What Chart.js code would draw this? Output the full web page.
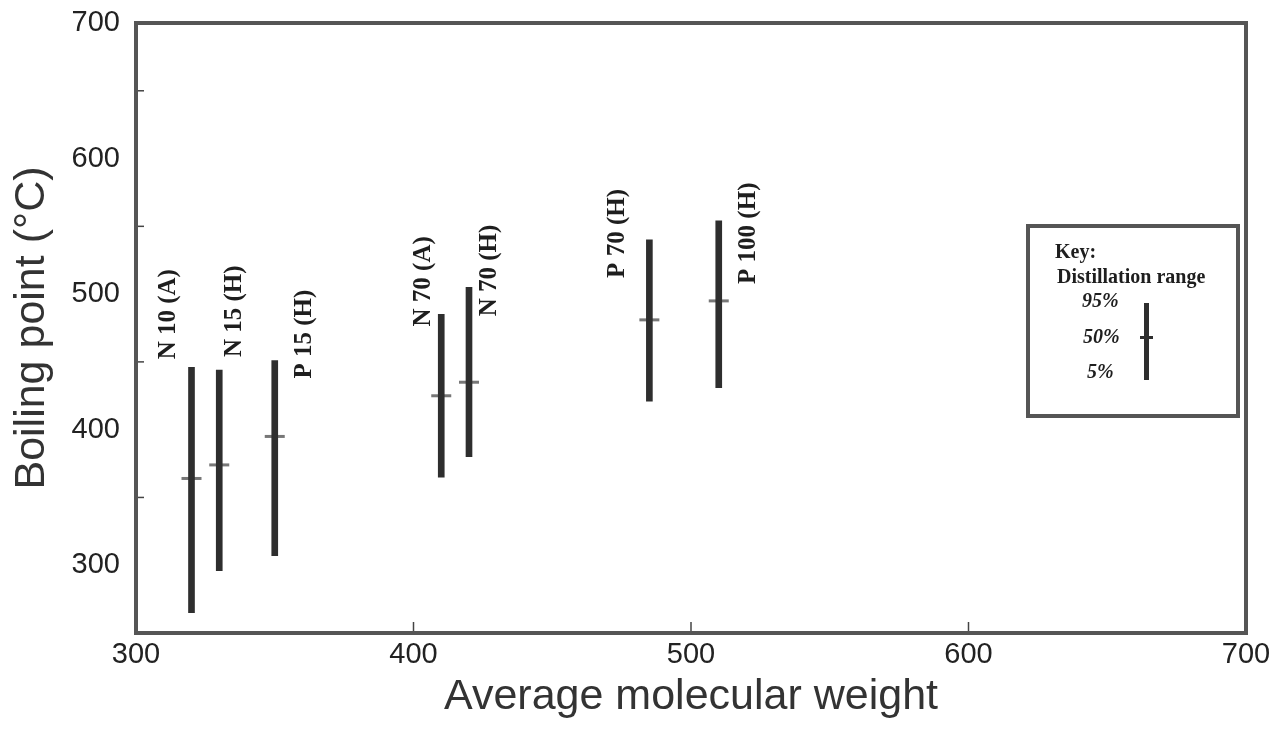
<!DOCTYPE html>
<html>
<head>
<meta charset="utf-8">
<script src="https://cdn.jsdelivr.net/npm/chart.js@4.4.0/dist/chart.umd.min.js"></script>
<style>
  html, body { margin: 0; padding: 0; background: #fff; }
  #wrap { width: 1278px; height: 731px; }
</style>
</head>
<body>
<div id="wrap"><canvas id="chart"></canvas></div>
<script>
// oils: average molecular weight vs boiling range (5% / 50% / 95%)
const oilNames = ['N 10 (A)', 'N 15 (H)', 'P 15 (H)', 'N 70 (A)', 'N 70 (H)', 'P 70 (H)', 'P 100 (H)'];
const molWeight = [320, 330, 350, 410, 420, 485, 510];
const bp5 = [265, 296, 307, 365, 380, 421, 431];
const bp50 = [364, 374, 395, 425, 435, 481, 495];
const bp95 = [446, 444, 451, 485, 505, 540, 554];

const xTickValues = [300, 400, 500, 600, 700];
const yTickValues = [300, 400, 500, 600, 700];
const xMinorTicks = [400, 500, 600];
const yMinorTicks = [350, 450, 550, 650];

// label offsets in pixels from the top of each bar (layout only)
const labelDx = [-23, 15, 30, -18, 21, -32, 30];
const labelDy = [-8, -13, 18, 12, 29, 38, 63];

const inkColor = '#2e2e2e';
const frameColor = '#555';

// frame, inward ticks, rotated labels and the key box
const decorPlugin = {
  id: 'decor',
  afterDatasetsDraw(chart) {
    const ctx = chart.ctx;
    const a = chart.chartArea;
    const xs = chart.scales.x;
    const ys = chart.scales.y;
    ctx.save();

    // rotated oil names
    ctx.fillStyle = '#1e1e1e';
    ctx.font = 'bold 25px "Liberation Serif", serif';
    ctx.textAlign = 'left';
    ctx.textBaseline = 'middle';
    oilNames.forEach(function (name, i) {
      const px = xs.getPixelForValue(molWeight[i]) + labelDx[i];
      const py = ys.getPixelForValue(bp95[i]) + labelDy[i];
      ctx.save();
      ctx.translate(px, py);
      ctx.rotate(-Math.PI / 2);
      ctx.fillText(name, 0, 0);
      ctx.restore();
    });

    // inward tick marks
    ctx.strokeStyle = '#444';
    ctx.lineWidth = 1.5;
    xMinorTicks.forEach(function (v) {
      const px = xs.getPixelForValue(v);
      ctx.beginPath();
      ctx.moveTo(px, a.bottom);
      ctx.lineTo(px, a.bottom - 11);
      ctx.stroke();
    });
    yMinorTicks.forEach(function (v) {
      const py = ys.getPixelForValue(v);
      ctx.beginPath();
      ctx.moveTo(a.left, py);
      ctx.lineTo(a.left + 8, py);
      ctx.stroke();
    });

    // plot frame
    ctx.strokeStyle = frameColor;
    ctx.lineWidth = 4;
    ctx.strokeRect(a.left, a.top, a.right - a.left, a.bottom - a.top);

    // key box
    const kx = 1028, ky = 226, kw = 210, kh = 190;
    ctx.lineWidth = 4;
    ctx.strokeRect(kx, ky, kw, kh);
    ctx.fillStyle = '#1e1e1e';
    ctx.textAlign = 'left';
    ctx.font = 'bold 20px "Liberation Serif", serif';
    ctx.fillText('Key:', kx + 27, ky + 27);
    ctx.fillText('Distillation range', kx + 29, ky + 52);
    ctx.font = 'bold italic 20px "Liberation Serif", serif';
    ctx.fillText('95%', kx + 54, ky + 76);
    ctx.fillText('50%', kx + 55, ky + 112);
    ctx.fillText('5%', kx + 59, ky + 147);
    ctx.fillStyle = inkColor;
    ctx.fillRect(kx + 116, ky + 77, 5, 77);
    ctx.fillRect(kx + 112, ky + 110, 13, 3);

    ctx.restore();
  }
};

new Chart(document.getElementById('chart'), {
  type: 'bar',
  data: {
    datasets: [
      {
        type: 'bar',
        data: molWeight.map(function (x, i) { return { x: x, y: [bp5[i], bp95[i]] }; }),
        backgroundColor: inkColor,
        borderWidth: 0,
        barThickness: 6
      },
      {
        type: 'scatter',
        data: molWeight.map(function (x, i) { return { x: x, y: bp50[i] }; }),
        pointStyle: 'line',
        pointRadius: 10,
        borderColor: '#777',
        borderWidth: 3
      }
    ]
  },
  plugins: [decorPlugin],
  options: {
    responsive: true,
    maintainAspectRatio: false,
    animation: false,
    layout: { padding: { top: 23, right: 32, left: 0, bottom: 0 } },
    plugins: {
      legend: { display: false },
      tooltip: { enabled: false }
    },
    scales: {
      x: {
        type: 'linear',
        min: 300,
        max: 700,
        offset: false,
        afterBuildTicks: function (scale) {
          scale.ticks = xTickValues.map(function (v) { return { value: v }; });
        },
        afterFit: function (scale) {
          scale.height = 98;
          scale.paddingRight = 0;
        },
        grid: { display: false, drawTicks: false },
        border: { display: false },
        ticks: {
          color: '#222',
          padding: 5,
          maxRotation: 0,
          font: { family: '"Liberation Sans", Arial, sans-serif', size: 29 }
        },
        title: {
          display: true,
          text: 'Average molecular weight',
          color: '#333',
          padding: { top: 0, bottom: 8 },
          font: { family: '"Liberation Sans", Arial, sans-serif', size: 43 }
        }
      },
      y: {
        type: 'linear',
        min: 250,
        max: 700,
        afterBuildTicks: function (scale) {
          scale.ticks = yTickValues.map(function (v) { return { value: v }; });
        },
        afterFit: function (scale) {
          scale.width = 136;
          scale.paddingTop = 0;
          scale.paddingBottom = 0;
        },
        grid: { display: false, drawTicks: false },
        border: { display: false },
        ticks: {
          color: '#222',
          padding: 16,
          font: { family: '"Liberation Sans", Arial, sans-serif', size: 29 }
        },
        title: {
          display: true,
          text: 'Boiling point (°C)',
          color: '#333',
          padding: { top: 6, bottom: 0 },
          font: { family: '"Liberation Sans", Arial, sans-serif', size: 43 }
        }
      }
    }
  }
});
</script>
</body>
</html>
